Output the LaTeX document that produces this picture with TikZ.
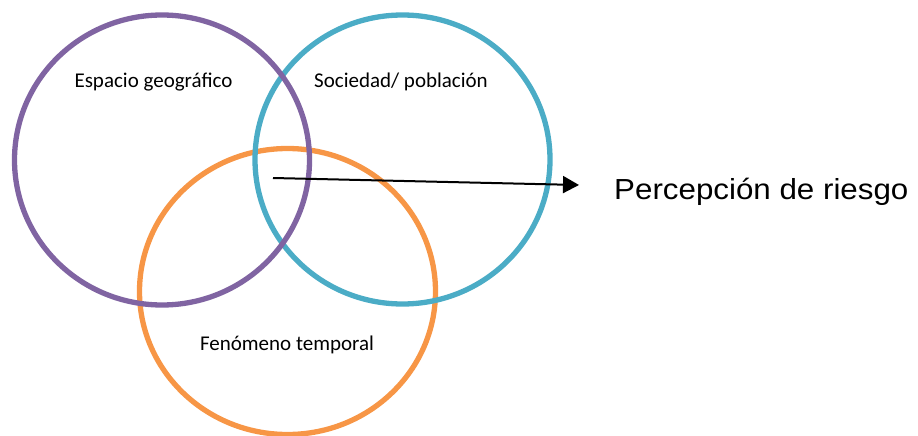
\documentclass[tikz,border=0pt]{standalone}
\usepackage{fontspec}
\setmainfont{Carlito}
\newfontfamily\arialfont{Liberation Sans}
\usetikzlibrary{arrows.meta}
\definecolor{cpurple}{HTML}{8064A2}
\definecolor{cblue}{HTML}{4BACC6}
\definecolor{corange}{HTML}{F79646}
\begin{document}
\begin{tikzpicture}[x=1pt,y=-1pt,
  ring/.style={line width=5.3pt},
  lbl/.style={font=\fontsize{21}{25}\selectfont, anchor=base, inner sep=0pt},
  arrowline/.style={line width=2pt, -{Triangle[length=16pt,width=17pt]}}]
\useasboundingbox (0,0) rectangle (918,436);
\draw[ring, corange] (287.5,291.5) ellipse [x radius=148, y radius=143];
\draw[ring, cblue] (402.5,159.5) ellipse [x radius=147.5, y radius=144.5];
\draw[ring, cpurple] (162,160) ellipse [x radius=147.5, y radius=145];
\node[lbl] (esp) at (153.5,88) {Espacio geográfico};
\node[lbl] (soc) at (401,88) {Sociedad/ población};
\node[lbl] (fen) at (287,350) {Fenómeno temporal};
\coordinate (start) at (273,178);
\node[anchor=base west, inner sep=0pt, font=\arialfont\fontsize{29}{33}\selectfont] (per) at (614,199.5) {\scalebox{1.08}[1]{Percepción de riesgo}};
\coordinate (tip) at (579,185);
\draw[arrowline] (start) -- (tip);
\end{tikzpicture}
\end{document}
